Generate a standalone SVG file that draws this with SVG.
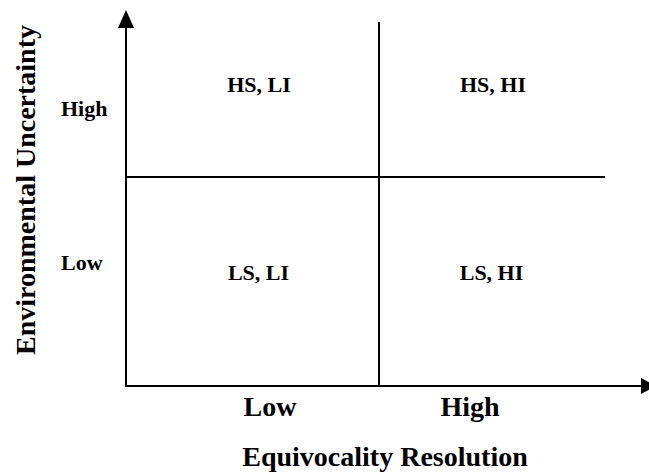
<svg xmlns="http://www.w3.org/2000/svg" width="649" height="472" viewBox="0 0 649 472">
<style>
text{font-family:"Liberation Serif","Times New Roman",serif;font-weight:bold;fill:#000}
.q{font-size:22px;text-anchor:middle}
.s{font-size:22px}
.a{font-size:28px;text-anchor:middle}
line{stroke:#000;stroke-width:2}
</style>
<g id="connectors">
<line x1="126" y1="387" x2="126" y2="27"/>
<path d="M118,28 L126,10 L134,28 Z" fill="#000"/>
<line x1="125" y1="386" x2="642" y2="386"/>
<path d="M641,378 L656,386 L641,394 Z" fill="#000"/>
<line x1="379" y1="22" x2="379" y2="386"/>
<line x1="126" y1="177" x2="605" y2="177"/>
</g>
<g id="q1"><text class="q" x="259" y="92">HS, LI</text></g>
<g id="q2"><text class="q" x="493" y="92">HS, HI</text></g>
<g id="q3"><text class="q" x="258.5" y="280">LS, LI</text></g>
<g id="q4"><text class="q" x="491.5" y="280">LS, HI</text></g>
<g id="yHigh"><text class="s" x="61" y="116">High</text></g>
<g id="yLow"><text class="s" x="61" y="270">Low</text></g>
<g id="xLow"><text class="a" x="270" y="416">Low</text></g>
<g id="xHigh"><text class="a" x="470" y="416">High</text></g>
<g id="xTitle"><text class="a" x="385" y="466">Equivocality Resolution</text></g>
<g id="yTitle"><text class="a" transform="translate(35,190) rotate(-90)">Environmental Uncertainty</text></g>
</svg>
